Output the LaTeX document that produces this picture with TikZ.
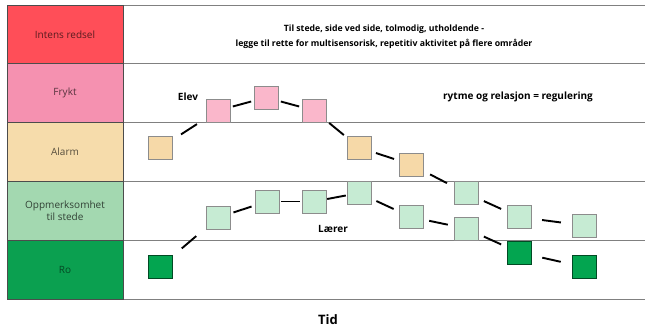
\documentclass[tikz,border=0pt]{standalone}
\usepackage{fontspec}
\setmainfont{Open Sans}
\usetikzlibrary{calc}
\definecolor{cRed}{HTML}{FF4E58}
\definecolor{cPink}{HTML}{F591B0}
\definecolor{cTan}{HTML}{F6DCAB}
\definecolor{cMint}{HTML}{A3D8B0}
\definecolor{cGreen}{HTML}{0BA050}
\definecolor{bPink}{HTML}{FAB7CB}
\definecolor{bTan}{HTML}{F6D9A8}
\definecolor{bMint}{HTML}{C6EBD3}
\definecolor{bGreen}{HTML}{03A550}
\definecolor{gridgray}{HTML}{808080}
\tikzset{
  rowlabel/.style={draw=black!70, line width=0.7pt, minimum width=116pt, minimum height=58.8pt,
    inner sep=2pt, align=center, font=\fontsize{10}{12.5}\selectfont},
  gridline/.style={draw=gridgray, line width=0.9pt},
  sq/.style={draw=black!45, line width=0.8pt, minimum width=24pt, minimum height=23pt, inner sep=0pt},
  sqPink/.style={sq, fill=bPink},
  sqTan/.style={sq, fill=bTan},
  sqMint/.style={sq, fill=bMint},
  sqGreen/.style={sq, fill=bGreen, draw=black!55!bGreen},
  link/.style={line width=1.9pt, black, to path={
    ($(\tikztostart)!0.5!(\tikztotarget)!9.5pt!(\tikztostart)$) --
    ($(\tikztostart)!0.5!(\tikztotarget)!9.5pt!(\tikztotarget)$)}},
  lbl/.style={font=\bfseries\fontsize{10}{12}\selectfont, inner sep=0pt}
}
\begin{document}
\begin{tikzpicture}[x=1pt, y=-1pt]
\useasboundingbox[fill=white] (0,0) rectangle (647,328);
% grid lines in the chart area
\foreach \yy in {5,63.8,122.6,181.4,240.2,299}
  \draw[gridline] (123,\yy) -- (645,\yy);
% row labels
\node[rowlabel, fill=cRed, text=cRed!35!black] (r1) at (65,34.4) {Intens redsel};
\node[rowlabel, fill=cPink, text=cPink!35!black] (r2) at (65,93.2) {Frykt};
\node[rowlabel, fill=cTan, text=cTan!35!black] (r3) at (65,152) {Alarm};
\node[rowlabel, fill=cMint, text=cMint!30!black] (r4) at (65,210.8) {Oppmerksomhet\\til stede};
\node[rowlabel, fill=cGreen, text=cGreen!45!black] (r5) at (65,269.6) {Ro};
% title text
\node[font=\bfseries\fontsize{8.7}{15}\selectfont, align=center] (title) at (384,36.5)
  {Til stede, side ved side, tolmodig, utholdende -\\legge til rette for multisensorisk, repetitiv aktivitet på flere områder};
\node[lbl] (elev) at (188,97) {Elev};
\node[lbl] (rytme) at (518,97) {rytme og relasjon = regulering};
\node[lbl] (laerer) at (333,229) {Lærer};
\node[font=\bfseries\fontsize{13}{15}\selectfont, inner sep=0pt, anchor=base] (tid) at (328,324.5) {Tid};
% Elev series
\node[sqTan] (e1) at (160,148) {};
\node[sqPink] (e2) at (218,110.5) {};
\node[sqPink] (e3) at (266,97.5) {};
\node[sqPink] (e4) at (314,110.5) {};
\node[sqTan] (e5) at (359,147.5) {};
\node[sqTan] (e6) at (411,164.5) {};
\node[sqMint] (e7) at (466,193) {};
\node[sqMint] (e8) at (519,217) {};
\node[sqMint] (e9) at (584,225.5) {};
% Laerer series
\node[sqGreen] (l1) at (160,267) {};
\node[sqMint] (l2) at (218,217.5) {};
\node[sqMint] (l3) at (267,201.5) {};
\node[sqMint] (l4) at (314,201.5) {};
\node[sqMint] (l5) at (359,193) {};
\node[sqMint] (l6) at (411,217) {};
\node[sqMint] (l7) at (466,228.5) {};
\node[sqGreen] (l8) at (519,252.5) {};
\node[sqGreen] (l9) at (584,267) {};
% connectors
\foreach \a/\b in {e1/e2,e2/e3,e3/e4,e4/e5,e5/e6,e6/e7,e7/e8,e8/e9,
                   l1/l2,l2/l3,l3/l4,l4/l5,l5/l6,l6/l7,l7/l8,l8/l9}
  \draw[link] (\a) to (\b);
\end{tikzpicture}
\end{document}
